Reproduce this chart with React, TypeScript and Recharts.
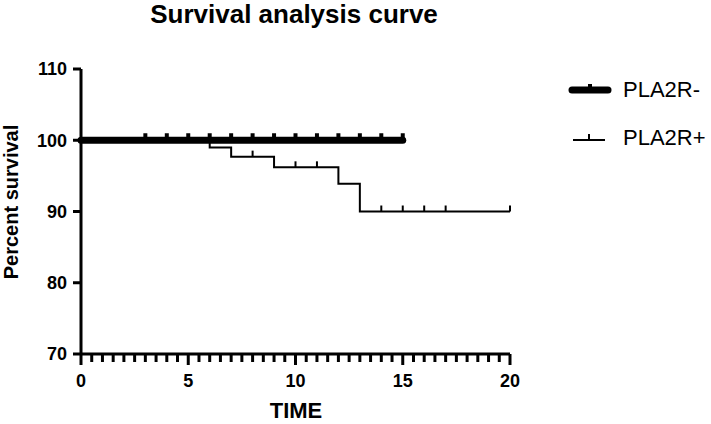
import React from 'react';
import { ComposedChart, Line, Scatter, XAxis, YAxis } from 'recharts';

const FONT = '"Liberation Sans", Arial, sans-serif';

// PLA2R- : no events
const negTimes = [0, 15];
const negSurvival = [100, 100];
const negCensorTimes = [3, 4, 5, 6, 7, 8, 9, 10, 11, 12, 13, 14, 15];

// PLA2R+ : step curve
const posTimes = [0, 6, 7, 9, 12, 13, 20];
const posSurvival = [100, 99.0, 97.7, 96.2, 93.9, 90, 90];
const posCensorTimes = [8, 10, 11, 14, 15, 16, 17, 20];
const posCensorSurvival = [97.7, 96.2, 96.2, 90, 90, 90, 90, 90];

const xTicks = [
  0, 0.5, 1, 1.5, 2, 2.5, 3, 3.5, 4, 4.5, 5, 5.5, 6, 6.5, 7, 7.5, 8, 8.5, 9, 9.5, 10,
  10.5, 11, 11.5, 12, 12.5, 13, 13.5, 14, 14.5, 15, 15.5, 16, 16.5, 17, 17.5, 18, 18.5,
  19, 19.5, 20,
];
const xLabels = [0, 5, 10, 15, 20];
const yTicks = [70, 80, 90, 100, 110];

const negData = negTimes.map((t, i) => ({ t, s: negSurvival[i] }));
const posData = posTimes.map((t, i) => ({ t, s: posSurvival[i] }));
const negCensor = negCensorTimes.map((t) => ({ t, s: 100 }));
const posCensor = posCensorTimes.map((t, i) => ({ t, s: posCensorSurvival[i] }));

function XTick(props: any) {
  const { x, y, payload } = props;
  const major = xLabels.includes(payload.value);
  return (
    <g>
      <line x1={x} x2={x} y1={y} y2={y + (major ? 11 : 8)} stroke="#000" strokeWidth={3} />
      {major && (
        <text x={x} y={y + 33} textAnchor="middle" fontFamily={FONT} fontWeight="bold" fontSize={18} fill="#000">
          {payload.value}
        </text>
      )}
    </g>
  );
}

const NegMark = (props: any) => (
  <rect x={props.cx - 2} y={props.cy - 7} width={4} height={7} fill="#000" />
);
const PosMark = (props: any) => (
  <line x1={props.cx} x2={props.cx} y1={props.cy} y2={props.cy - 6} stroke="#000" strokeWidth={2} />
);

export default function App() {
  return (
    <div style={{ position: 'absolute', left: 0, top: 0, width: 711, height: 424, background: '#fff' }}>
      <ComposedChart width={711} height={424} margin={{ top: 69, right: 201, bottom: 30, left: 0 }}>
        <XAxis
          type="number"
          dataKey="t"
          domain={[0, 20]}
          ticks={xTicks}
          interval={0}
          tickSize={0}
          tickMargin={0}
          tickLine={false}
          tick={<XTick />}
          axisLine={{ stroke: '#000', strokeWidth: 3 }}
          height={40}
          allowDuplicatedCategory={false}
        />
        <YAxis
          type="number"
          domain={[70, 110]}
          ticks={yTicks}
          interval={0}
          width={81}
          tickSize={8}
          tickMargin={6}
          tickLine={{ stroke: '#000', strokeWidth: 3 }}
          axisLine={{ stroke: '#000', strokeWidth: 3 }}
          tick={{ fill: '#000', fontFamily: FONT, fontWeight: 'bold', fontSize: 18 }}
        />
        <Line
          data={posData}
          dataKey="s"
          type="stepAfter"
          stroke="#000"
          strokeWidth={2}
          dot={false}
          isAnimationActive={false}
        />
        <Line
          data={negData}
          dataKey="s"
          type="stepAfter"
          stroke="#000"
          strokeWidth={7}
          strokeLinecap="round"
          dot={false}
          isAnimationActive={false}
        />
        <Scatter data={negCensor} dataKey="s" shape={NegMark} isAnimationActive={false} />
        <Scatter data={posCensor} dataKey="s" shape={PosMark} isAnimationActive={false} />
      </ComposedChart>
      <svg width={711} height={424} style={{ position: 'absolute', left: 0, top: 0, pointerEvents: 'none' }}>
        <text x={294} y={23} textAnchor="middle" fontFamily={FONT} fontWeight="bold" fontSize={26}>
          Survival analysis curve
        </text>
        <text
          x={0}
          y={0}
          transform="translate(18,202) rotate(-90)"
          textAnchor="middle"
          fontFamily={FONT}
          fontWeight="bold"
          fontSize={20}
        >
          Percent survival
        </text>
        <text x={296} y={418} textAnchor="middle" fontFamily={FONT} fontWeight="bold" fontSize={22}>
          TIME
        </text>
        <line x1={572} x2={608} y1={90} y2={90} stroke="#000" strokeWidth={7} strokeLinecap="round" />
        <rect x={588} y={84} width={4} height={6} fill="#000" />
        <text x={623} y={97} fontFamily={FONT} fontSize={22}>
          PLA2R-
        </text>
        <line x1={573} x2={605} y1={140} y2={140} stroke="#000" strokeWidth={2} />
        <line x1={589} x2={589} y1={134} y2={140} stroke="#000" strokeWidth={2} />
        <text x={623} y={145} fontFamily={FONT} fontSize={22}>
          PLA2R+
        </text>
      </svg>
    </div>
  );
}
